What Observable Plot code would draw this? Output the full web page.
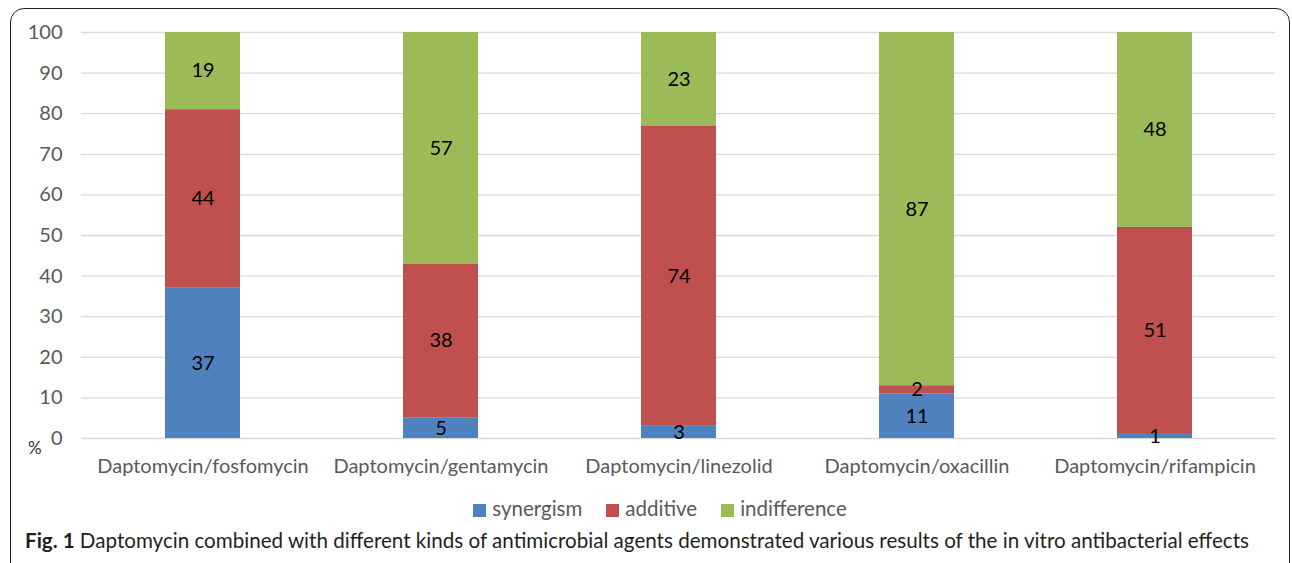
<!DOCTYPE html>
<html>
<head>
<meta charset="utf-8">
<script src="https://cdn.jsdelivr.net/npm/d3@7"></script>
<script src="https://cdn.jsdelivr.net/npm/@observablehq/plot@0.6"></script>
<style>
  html, body { margin: 0; padding: 0; background: #fff; }
  body { width: 1292px; height: 563px; overflow: hidden; position: relative; font-family: Lato, sans-serif; }
  #frame { position: absolute; left: 10px; top: 8px; width: 1280px; height: 600px; border: 1.5px solid #222; border-radius: 14px; box-sizing: border-box; }
  #chart { position: absolute; left: 0; top: 0; }
  #pct { position: absolute; left: 28px; top: 437px; font-size: 17px; color: #333; }
  #legend { position: absolute; left: 14px; width: 1292px; top: 496px; text-align: center; font-size: 20.5px; color: #595959; }
  #legend span.item { display: inline-block; margin: 0 12px; }
  #legend span.sw { display: inline-block; width: 13px; height: 13px; margin-right: 6px; vertical-align: -1px; }
  #caption { position: absolute; left: 25px; top: 528px; font-size: 20.6px; color: #231f20; white-space: nowrap; }
</style>
</head>
<body>
<div id="frame"></div>
<div id="chart"></div>
<div id="pct">%</div>
<div id="legend"></div>
<div id="caption"><b>Fig. 1</b> Daptomycin combined with different kinds of antimicrobial agents demonstrated various results of the in vitro antibacterial effects</div>
<script>
const categories = ["Daptomycin/fosfomycin", "Daptomycin/gentamycin", "Daptomycin/linezolid", "Daptomycin/oxacillin", "Daptomycin/rifampicin"];
const series = ["synergism", "additive", "indifference"];
const synergism = [37, 5, 3, 11, 1];
const additive = [44, 38, 74, 2, 51];
const indifference = [19, 57, 23, 87, 48];
const colors = ["#4f81bd", "#c0504d", "#9bbb59"];
const yTicks = [0, 10, 20, 30, 40, 50, 60, 70, 80, 90, 100];

const values = [synergism, additive, indifference];
const data = [];
series.forEach((s, si) => categories.forEach((c, ci) => data.push({category: c, series: s, value: values[si][ci]})));

const chart = Plot.plot({
  width: 1292,
  height: 490,
  marginTop: 32,
  marginBottom: 52,
  marginLeft: 81,
  marginRight: 17,
  style: {fontFamily: "Lato, sans-serif", background: "transparent"},
  x: {domain: categories, paddingInner: 0.686, paddingOuter: 0.343, label: null},
  y: {domain: [0, 100], label: null},
  color: {domain: series, range: colors},
  marks: [
    Plot.ruleY(yTicks, {stroke: "#d9d9d9", strokeWidth: 1.3}),
    Plot.axisY({ticks: yTicks, tickSize: 0, tickPadding: 19, fontSize: 20, fill: "#595959", label: null}),
    Plot.axisX({tickSize: 0, tickPadding: 20, fontSize: 20, fill: "#595959", label: null}),
    Plot.barY(data, {x: "category", y: "value", fill: "series", order: series}),
    Plot.text(data, Plot.stackY({x: "category", y: "value", z: "series", order: series, text: d => String(d.value), fontSize: 20, fill: "#000"}))
  ]
});
document.getElementById("chart").appendChild(chart);

const legend = document.getElementById("legend");
series.forEach((s, i) => {
  const item = document.createElement("span");
  item.className = "item";
  const sw = document.createElement("span");
  sw.className = "sw";
  sw.style.background = colors[i];
  item.appendChild(sw);
  item.appendChild(document.createTextNode(s));
  legend.appendChild(item);
});
</script>
</body>
</html>
